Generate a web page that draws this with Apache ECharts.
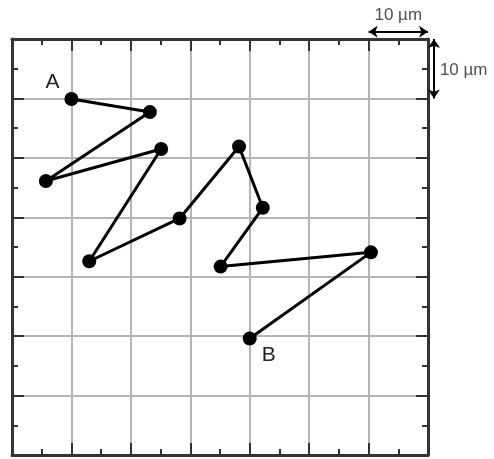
<!DOCTYPE html>
<html><head><meta charset="utf-8">
<script src="https://cdn.jsdelivr.net/npm/echarts@6/dist/echarts.min.js"></script>
<style>html,body{margin:0;padding:0;background:#fff}#c{width:494px;height:459px}</style>
</head><body><div id="c"></div>
<script>
// Track positions in µm (x from left, y from top)
const trackX = [10, 23.2, 5.7, 25.1, 13.0, 28.2, 38.2, 42.2, 35.1, 60.4, 40.0];
const trackY = [10.1, 12.3, 23.9, 18.5, 37.4, 30.2, 18.1, 28.4, 38.3, 35.9, 50.4];
const pointLabels = ['A', '', '', '', '', '', '', '', '', '', 'B'];
// Scale bars (µm)
const scaleBarH = [[60, -1.2], [70, -1.2]];
const scaleBarV = [[71.0, 0], [71.0, 10]];
const scaleText = '10 µm';
const axisMin = 0, axisMax = 70, gridStep = 10;

const chart = echarts.init(document.getElementById('c'), null, {renderer: 'canvas'});
const font = 'Liberation Sans, Arial, sans-serif';
function axis(pos, isY) {
  return {
    type: 'value', position: pos, min: axisMin, max: axisMax, interval: gridStep,
    inverse: isY ? true : false,
    axisLine: {show: true, onZero: false, lineStyle: {color: '#333', width: 3}},
    axisTick: {show: true, inside: true, length: 12, lineStyle: {color: '#333', width: 2}},
    minorTick: {show: true, splitNumber: 2, length: 6, lineStyle: {color: '#333', width: 2}},
    axisLabel: {show: false},
    splitLine: {show: pos === 'bottom' || pos === 'left', lineStyle: {color: '#b4b4b4', width: 2}}
  };
}
const pts = trackX.map((x, i) => ({
  value: [x, trackY[i]],
  label: {
    show: pointLabels[i] !== '',
    formatter: pointLabels[i],
    position: 'inside',
    offset: i === 0 ? [-19, -17] : [19, 17],
    color: '#222', fontSize: 21, fontFamily: font
  }
}));
chart.setOption({
  animation: false,
  grid: {left: 12, top: 39, width: 416, height: 416, show: false},
  xAxis: [axis('bottom', false), axis('top', false)],
  yAxis: [axis('left', true), axis('right', true)],
  series: [
    {
      type: 'line', data: pts, symbol: 'circle', symbolSize: 14,
      itemStyle: {color: '#000'}, lineStyle: {color: '#000', width: 3}, z: 5
    },
    {
      type: 'lines', coordinateSystem: 'cartesian2d', clip: false, polyline: false,
      symbol: ['arrow', 'arrow'], symbolSize: 9,
      lineStyle: {color: '#000', width: 2, opacity: 1},
      data: [{coords: scaleBarH}, {coords: scaleBarV}]
    },
    {
      type: 'scatter', clip: false, symbolSize: 0, silent: true,
      data: [
        {value: [65.0, -4.0], label: {show: true, position: 'inside', formatter: scaleText, color: '#222', fontSize: 17, fontFamily: font}},
        {value: [72.0, 5.2], label: {show: true, position: 'right', distance: 0, formatter: scaleText, color: '#222', fontSize: 17, fontFamily: font}}
      ]
    }
  ]
});
</script></body></html>
